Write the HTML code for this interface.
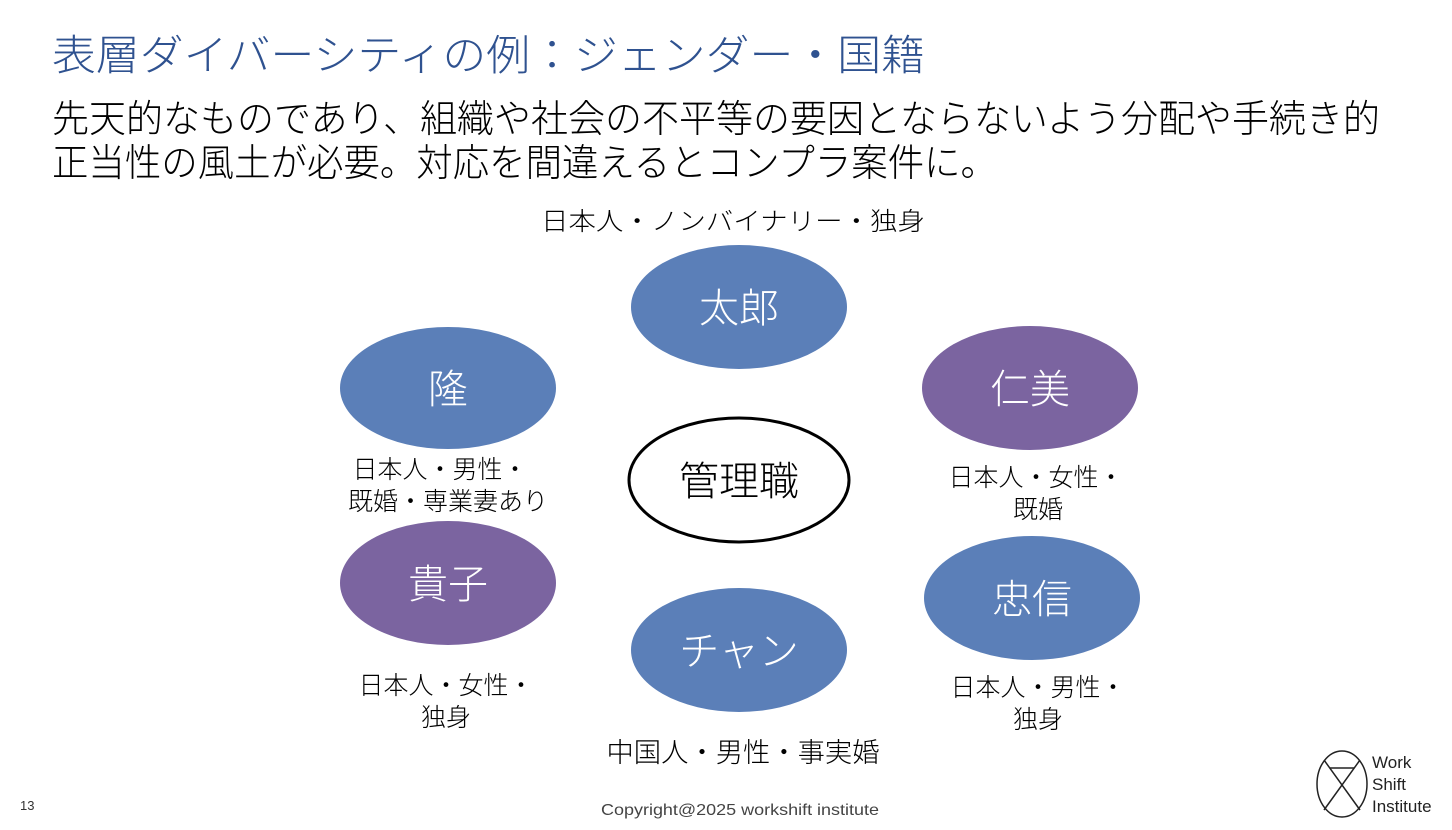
<!DOCTYPE html>
<html><head><meta charset="utf-8"><style>
html,body{margin:0;padding:0;background:#fff;}
svg{display:block;}
text{font-family:"Liberation Sans","Noto Sans CJK JP",sans-serif;font-weight:300;}
</style></head><body>
<svg width="1452" height="830" viewBox="0 0 1452 830" xmlns="http://www.w3.org/2000/svg">
<text x="52" y="70" font-size="42" fill="#2f5290" textLength="873" lengthAdjust="spacingAndGlyphs">表層ダイバーシティの例：ジェンダー・国籍</text>
<text x="52" y="132" font-size="38" fill="#000" textLength="1328" lengthAdjust="spacingAndGlyphs">先天的なものであり、組織や社会の不平等の要因とならないよう分配や手続き的</text>
<text x="52" y="176" font-size="38" fill="#000" textLength="945" lengthAdjust="spacingAndGlyphs">正当性の風土が必要。対応を間違えるとコンプラ案件に。</text>

<text x="733" y="230" font-size="25" text-anchor="middle" textLength="384" lengthAdjust="spacingAndGlyphs">日本人・ノンバイナリー・独身</text>

<ellipse cx="739" cy="307" rx="108" ry="62" fill="#5b7fb8"/>
<text x="739" y="322" font-size="40" fill="#fff" text-anchor="middle">太郎</text>

<ellipse cx="448" cy="388" rx="108" ry="61" fill="#5b7fb8"/>
<text x="448" y="403" font-size="40" fill="#fff" text-anchor="middle">隆</text>

<ellipse cx="1030" cy="388" rx="108" ry="62" fill="#7b64a0"/>
<text x="1030" y="403" font-size="40" fill="#fff" text-anchor="middle">仁美</text>

<ellipse cx="739" cy="480" rx="110" ry="62" fill="#fff" stroke="#000" stroke-width="3"/>
<text x="739" y="495" font-size="40" fill="#000" text-anchor="middle">管理職</text>

<text x="440" y="478" font-size="25" text-anchor="middle">日本人・男性・</text>
<text x="448" y="510" font-size="25" text-anchor="middle">既婚・専業妻あり</text>

<text x="1036" y="486" font-size="25" text-anchor="middle">日本人・女性・</text>
<text x="1038" y="518" font-size="25" text-anchor="middle">既婚</text>

<ellipse cx="448" cy="583" rx="108" ry="62" fill="#7b64a0"/>
<text x="448" y="598" font-size="40" fill="#fff" text-anchor="middle">貴子</text>

<ellipse cx="1032" cy="598" rx="108" ry="62" fill="#5b7fb8"/>
<text x="1032" y="613" font-size="40" fill="#fff" text-anchor="middle">忠信</text>

<ellipse cx="739" cy="650" rx="108" ry="62" fill="#5b7fb8"/>
<text x="739" y="665" font-size="40" fill="#fff" text-anchor="middle">チャン</text>

<text x="446" y="694" font-size="25" text-anchor="middle">日本人・女性・</text>
<text x="446" y="726" font-size="25" text-anchor="middle">独身</text>

<text x="1038" y="696" font-size="25" text-anchor="middle">日本人・男性・</text>
<text x="1038" y="728" font-size="25" text-anchor="middle">独身</text>

<text x="743" y="762" font-size="27" text-anchor="middle" textLength="273" lengthAdjust="spacingAndGlyphs">中国人・男性・事実婚</text>

<text x="20" y="810" font-size="13" fill="#333">13</text>
<text x="740" y="815" font-size="16" fill="#444" text-anchor="middle" textLength="278" lengthAdjust="spacingAndGlyphs">Copyright@2025 workshift institute</text>

<g fill="none" stroke="#222" stroke-width="1.5">
<ellipse cx="1342" cy="784" rx="25" ry="33"/>
<line x1="1324" y1="760" x2="1360" y2="810"/>
<line x1="1360" y1="760" x2="1324" y2="810"/>
<line x1="1330" y1="768" x2="1354" y2="768"/>
</g>
<text x="1372" y="768" font-size="17" fill="#222">Work</text>
<text x="1372" y="790" font-size="17" fill="#222">Shift</text>
<text x="1372" y="812" font-size="17" fill="#222">Institute</text>
</svg>
</body></html>
